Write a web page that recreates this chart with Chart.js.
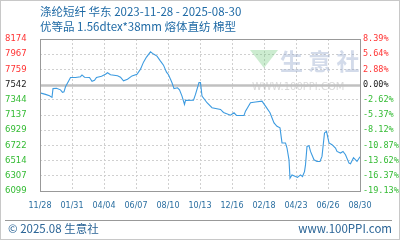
<!DOCTYPE html>
<html><head><meta charset="utf-8">
<script src="https://cdn.jsdelivr.net/npm/chart.js@4.4.0/dist/chart.umd.min.js"></script>
<style>html,body{margin:0;padding:0;background:#fff;}canvas{display:block;}</style>
</head><body>
<canvas id="c" width="400" height="240"></canvas>
<script>
const titleText = '涤纶短纤 华东 2023-11-28 - 2025-08-30';
const subtitleText = '优等品 1.56dtex*38mm 熔体直纺 棉型';
const footerLeft = '© 2025.08 生意社';
const footerRight = 'www.100PPI.com';
const xTickLabels = ['11/28','01/31','04/04','06/07','08/10','10/13','12/16','02/18','04/23','06/26','08/30'];
const xTickStepDays = 64;
const yTickLabels = ['6099','6307','6514','6722','6929','7137','7344','7542','7759','7967','8174'];
const pctTickLabels = ['-19.13%','-16.37%','-13.62%','-10.87%','-8.12%','-5.37%','-2.62%','0.00%','2.88%','5.64%','8.39%'];
const baseIndex = 7;
const yMin = 6099, yMax = 8174;
// day offsets from 2023-11-28 and price (yuan/ton)
const days = [0,11,19,24,26,33,41,45,48,51,57,61,71,81,84,89,99,104,109,113,123,131,135,141,155,161,167,175,184,194,201,207,213,221,227,234,241,247,253,257,261,264,268,275,279,284,289,291,307,311,318,321,324,334,344,361,367,381,388,393,408,411,421,431,444,451,460,468,474,480,484,491,494,498,500,504,511,515,521,525,529,531,534,538,541,548,554,560,564,569,573,578,584,591,594,601,606,611,618,621,627,634,640];
const prices = [7439,7418,7398,7377,7497,7501,7480,7446,7453,7521,7597,7648,7648,7659,7683,7652,7648,7597,7611,7648,7666,7693,7714,7686,7672,7652,7604,7624,7670,7693,7762,7858,7927,7999,7968,7940,7872,7817,7721,7686,7624,7576,7497,7508,7480,7395,7281,7336,7340,7418,7579,7579,7395,7304,7236,7212,7171,7134,7167,7130,7130,7189,7304,7315,7326,7258,7167,7029,6983,6961,6755,6755,6686,6525,6274,6319,6296,6285,6319,6296,6364,6456,6708,6718,6639,6525,6502,6502,6571,6892,6914,6755,6731,6686,6639,6617,6639,6594,6480,6470,6553,6502,6566];

const RED = '#ff3333', GREEN = '#33bb33', BLACK = '#222', BLUE = '#1f6aa5';
const tickColor = c => c.index < baseIndex ? GREEN : (c.index > baseIndex ? RED : BLACK);
const yTickValues = yTickLabels.map((_, i) => yMin + (yMax - yMin) * i / (yTickLabels.length - 1));

const deco = {
  id: 'deco',
  beforeDraw(chart) {
    const ctx = chart.ctx;
    ctx.save();
    ctx.fillStyle = '#fff';
    ctx.fillRect(0, 0, chart.width, chart.height);
    ctx.strokeStyle = '#c8c8c8';
    ctx.lineWidth = 1;
    ctx.strokeRect(0.5, 0.5, chart.width - 1, chart.height - 1);
    ctx.fillStyle = BLUE;
    ctx.textBaseline = 'middle';
    ctx.textAlign = 'left';
    ctx.font = '11.5px "Noto Sans CJK SC"';
    ctx.fillText(titleText, 40, 12);
    ctx.fillText(subtitleText, 40, 27);
    ctx.strokeStyle = '#999';
    ctx.beginPath(); ctx.moveTo(5, 220.5); ctx.lineTo(392, 220.5); ctx.stroke();
    ctx.font = '11.5px "Noto Sans CJK SC"';
    ctx.fillStyle = '#2a6496';
    ctx.fillText(footerLeft, 8, 229);
    ctx.textAlign = 'right';
    ctx.fillText(footerRight, 392, 229);
    ctx.restore();
  },
  beforeDatasetsDraw(chart) {
    const ctx = chart.ctx, a = chart.chartArea;
    ctx.save();
    // watermark
    ctx.fillStyle = 'rgba(110,200,120,0.35)';
    ctx.beginPath(); ctx.moveTo(250, 50); ctx.lineTo(278, 50); ctx.lineTo(264, 68); ctx.closePath(); ctx.fill();
    ctx.fillStyle = 'rgba(140,160,200,0.38)';
    ctx.font = 'bold 23px "Noto Sans CJK SC"';
    ctx.textAlign = 'left'; ctx.textBaseline = 'middle';
    ctx.fillText('生 意 社', 280, 61);
    ctx.font = '10px "DejaVu Sans"';
    ctx.fillStyle = 'rgba(170,170,170,0.45)';
    ctx.fillText('WWW.100PPI.COM', 252, 87);
    // baseline (0.00%)
    const y = Math.round(chart.scales.y.getPixelForValue(yTickValues[baseIndex])) + 0.5;
    ctx.strokeStyle = '#c0c0c0';
    ctx.lineWidth = 2.5;
    ctx.beginPath(); ctx.moveTo(a.left, y); ctx.lineTo(a.right, y); ctx.stroke();
    ctx.restore();
  },
  afterDraw(chart) {
    const ctx = chart.ctx, a = chart.chartArea;
    ctx.save();
    ctx.strokeStyle = '#999';
    ctx.lineWidth = 1;
    ctx.strokeRect(Math.round(a.left) + 0.5, Math.round(a.top) + 0.5, Math.round(a.right - a.left), Math.round(a.bottom - a.top));
    ctx.restore();
  }
};

new Chart(document.getElementById('c'), {
  type: 'line',
  data: {
    datasets: [{
      data: days.map((d, i) => ({ x: d, y: prices[i] })),
      borderColor: '#3d9be0',
      borderWidth: 1.1,
      pointRadius: 0,
      tension: 0,
      fill: false
    }]
  },
  options: {
    responsive: false,
    animation: false,
    devicePixelRatio: 1,
    layout: { padding: { top: 39, left: 5, right: 0, bottom: 29 } },
    plugins: { legend: { display: false }, tooltip: { enabled: false } },
    scales: {
      x: {
        type: 'linear',
        min: 0,
        max: xTickStepDays * (xTickLabels.length - 1),
        afterBuildTicks: s => { s.ticks = xTickLabels.map((_, i) => ({ value: i * xTickStepDays })); },
        afterFit: s => { s.height = 20; },
        grid: { color: '#d0d0d0', lineWidth: 1, drawTicks: false },
        border: { display: false, dash: [2, 2] },
        ticks: {
          callback: (v, i) => xTickLabels[i],
          color: '#2a6ea0',
          font: { family: 'DejaVu Sans', size: 8 },
          padding: 10,
          maxRotation: 0,
          autoSkip: false
        }
      },
      y: {
        position: 'left',
        min: yMin, max: yMax,
        afterBuildTicks: s => { s.ticks = yTickValues.map(v => ({ value: v })); },
        afterFit: s => { s.width = 35; },
        grid: { color: c => c.index === baseIndex ? 'rgba(0,0,0,0)' : '#d0d0d0', lineWidth: 1, drawTicks: false },
        border: { display: false, dash: [2, 2] },
        ticks: {
          callback: (v, i) => yTickLabels[i],
          color: tickColor,
          font: { family: 'DejaVu Sans', size: 8.5 },
          crossAlign: 'far',
          padding: 4,
          autoSkip: false
        }
      },
      y2: {
        position: 'right',
        min: yMin, max: yMax,
        afterBuildTicks: s => { s.ticks = yTickValues.map(v => ({ value: v })); },
        afterFit: s => { s.width = 40; },
        grid: { display: false, drawTicks: false },
        border: { display: false },
        ticks: {
          callback: (v, i) => pctTickLabels[i],
          color: tickColor,
          font: { family: 'DejaVu Sans Mono', size: 8.5 },
          padding: 3,
          autoSkip: false
        }
      }
    }
  },
  plugins: [deco]
});
</script>
</body></html>
